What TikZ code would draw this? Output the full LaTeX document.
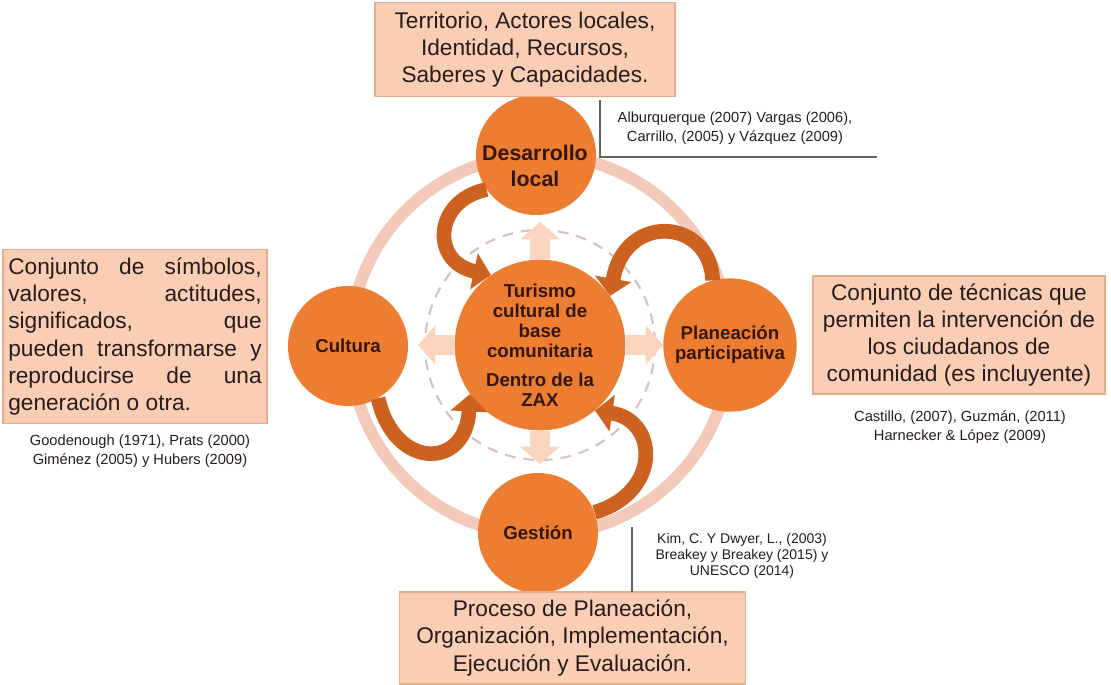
\documentclass[tikz,border=0pt]{standalone}
\usepackage{fontspec}
\setmainfont{Liberation Sans}
\usetikzlibrary{arrows.meta}

\definecolor{naranja}{RGB}{237,125,49}
\definecolor{naranjaOscuro}{RGB}{205,98,32}
\definecolor{durazno}{RGB}{249,206,180}
\definecolor{bordeCaja}{RGB}{228,172,138}
\definecolor{anilloClaro}{RGB}{243,201,186}
\definecolor{flechaPalida}{RGB}{250,212,188}
\definecolor{punteado}{RGB}{215,192,196}
\definecolor{texto}{RGB}{38,28,26}
\definecolor{textoCirculo}{RGB}{52,22,10}

\begin{document}
\begin{tikzpicture}[x=0.75pt,y=0.75pt,yscale=-1,xscale=1,
  circulo/.style={circle,fill=naranja,inner sep=0pt,align=center,text=textoCirculo,font=\bfseries\fontsize{14}{15}\selectfont},
  caja/.style={fill=durazno,draw=bordeCaja,line width=0.8pt,inner sep=0pt,text=texto,font=\fontsize{17}{20.4}\selectfont},
  cita/.style={align=center,inner sep=0.75pt,text=texto,font=\fontsize{11}{14}\selectfont},
  lineaCita/.style={draw=texto!70,line width=0.8pt},
  curva/.style={draw=naranjaOscuro,line width=11pt,-{Triangle[width=27pt,length=13pt]}},
  palida/.style={draw=flechaPalida,line width=15pt,-{Triangle[width=29pt,length=13pt]}}]

\useasboundingbox (0,0) rectangle (1111,685);

% anillo y circulo punteado
\draw [draw=anilloClaro,line width=9pt] (540,345) circle [radius=190];
\draw [draw=punteado,line width=1.6pt,dash pattern=on 8pt off 6pt] (540,345) circle [radius=115];

\node [circulo,minimum size=128pt] (turismo) at (540,345) {Turismo\\cultural de\\base\\comunitaria\\[7pt]Dentro de la\\ZAX};

\node [circulo,minimum size=90pt] (desarrollo) at (536,155) {};
\node [circulo,fill=none,font=\bfseries\fontsize{16}{20}\selectfont] (txtDesarrollo) at (535,166) {Desarrollo\\local};

\node [circulo,minimum size=90pt] (cultura) at (348,346) {Cultura};

\node [circulo,minimum size=100pt] (planeacion) at (730,345) {Planeación\\participativa};

\node [circulo,minimum size=90pt] (gestion) at (538,533) {Gestión};

% flechas palidas
\draw [palida] (turismo.north) -- (540,222);
\draw [palida] (turismo.west) -- (418,345);
\draw [palida] (turismo.east) -- (663,345);
\draw [palida] (turismo.south) -- (540,464);

% flechas curvas
\draw [curva] (desarrollo.215) .. controls (434,200) and (430,262) .. (turismo.125);
\draw [curva] (planeacion.105) .. controls (710,218) and (625,212) .. (turismo.35);
\draw [curva] (gestion.20) .. controls (662,492) and (658,420) .. (turismo.-50);
\draw [curva] (cultura.-60) .. controls (394,470) and (466,470) .. (turismo.215);

% cajas de texto
\node [caja,minimum width=225pt,minimum height=71pt,align=center] (cajaDesarrollo) at (525,49.5) {Territorio, Actores locales,\\Identidad, Recursos,\\Saberes y Capacidades.};

\node [caja,minimum width=198pt,minimum height=130pt,text width=190pt,align=justify] (cajaCultura) at (135,336.5) {\hyphenpenalty=10000\tolerance=10000 Conjunto de símbolos,\linebreak valores, actitudes,\linebreak significados, que\linebreak pueden transformarse y\linebreak reproducirse de una\linebreak generación o otra.};

\node [caja,minimum width=219pt,minimum height=88.5pt,align=center] (cajaPlaneacion) at (959,335) {Conjunto de técnicas que\\permiten la intervención de\\los ciudadanos de\\comunidad (es incluyente)};

\node [caja,minimum width=259pt,minimum height=69pt,align=center] (cajaGestion) at (572.5,638) {Proceso de Planeación,\\Organización, Implementación,\\Ejecución y Evaluación.};

% citas
\node [cita] (citaDesarrollo) at (735,128) {Alburquerque (2007) Vargas (2006),\\Carrillo, (2005) y Vázquez (2009)};
\draw [lineaCita] (600,100) -- (600,157) -- (877,157);

\node [cita] (citaCultura) at (140,451) {Goodenough (1971), Prats (2000)\\Giménez (2005) y Hubers (2009)};

\node [cita] (citaPlaneacion) at (960,427) {Castillo, (2007), Guzmán, (2011)\\Harnecker \& López (2009)};

\node [cita,font=\fontsize{10.5}{12}\selectfont] (citaGestion) at (742,556) {Kim, C. Y Dwyer, L., (2003)\\Breakey y Breakey (2015) y\\UNESCO (2014)};
\draw [lineaCita] (632,527) -- (632,592);

\end{tikzpicture}
\end{document}
